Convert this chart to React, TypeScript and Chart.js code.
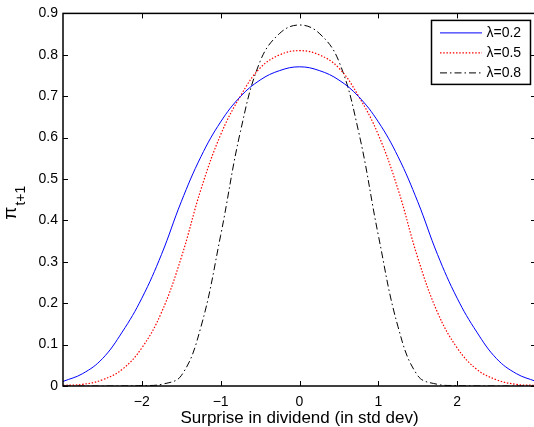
import React, { useEffect, useRef } from "react";
import { Chart, registerables } from "chart.js";

Chart.register(...registerables);

// ---- data ----
const xValues = [
  -3, -2.75, -2.5, -2.25, -2, -1.75, -1.5, -1.25, -1, -0.75, -0.5, -0.25, 0,
  0.25, 0.5, 0.75, 1, 1.25, 1.5, 1.75, 2, 2.25, 2.5, 2.75, 3,
];
const lambda02 = [
  0.011, 0.03, 0.066, 0.13, 0.212, 0.318, 0.445, 0.554, 0.638, 0.699, 0.739, 0.762, 0.771,
  0.762, 0.739, 0.699, 0.638, 0.554, 0.445, 0.318, 0.212, 0.13, 0.066, 0.03, 0.011,
];
const lambda05 = [
  0.0015, 0.004, 0.015, 0.04, 0.092, 0.178, 0.31, 0.475, 0.607, 0.7, 0.768, 0.8, 0.81,
  0.8, 0.768, 0.7, 0.607, 0.475, 0.31, 0.178, 0.092, 0.04, 0.015, 0.004, 0.0015,
];
const lambda08 = [
  0, 0, 0, 0.0002, 0.001, 0.004, 0.025, 0.143, 0.364, 0.614, 0.784, 0.852, 0.872,
  0.852, 0.784, 0.614, 0.364, 0.143, 0.025, 0.004, 0.001, 0.0002, 0, 0, 0,
];
const seriesLabels = ["λ=0.2", "λ=0.5", "λ=0.8"];
const xTicks = [-2, -1, 0, 1, 2];
const xTickLabels = ["\u22122", "\u22121", "0", "1", "2"];
const yTicks = [0, 0.1, 0.2, 0.3, 0.4, 0.5, 0.6, 0.7, 0.8, 0.9];
const yTickLabels = ["0", "0.1", "0.2", "0.3", "0.4", "0.5", "0.6", "0.7", "0.8", "0.9"];
const xAxisTitle = "Surprise in dividend (in std dev)";
const yAxisMain = "π";
const yAxisSub = "t+1";

const FONT = "'Liberation Sans', Arial, Helvetica, sans-serif";

const framePlugin = {
  id: "matlabFrame",
  afterDatasetsDraw(chart: any) {
    const { ctx, chartArea } = chart;
    const { left, right, top, bottom } = chartArea;
    const xs = chart.scales.x;
    const ys = chart.scales.y;
    const tl = 5;
    ctx.save();
    ctx.strokeStyle = "#000";
    ctx.lineWidth = 1;
    for (const v of xTicks) {
      const px = Math.round(xs.getPixelForValue(v)) + 0.5;
      ctx.beginPath();
      ctx.moveTo(px, bottom);
      ctx.lineTo(px, bottom - tl);
      ctx.moveTo(px, top);
      ctx.lineTo(px, top + tl);
      ctx.stroke();
    }
    for (const v of yTicks) {
      const py = Math.round(ys.getPixelForValue(v)) + 0.5;
      ctx.beginPath();
      ctx.moveTo(left, py);
      ctx.lineTo(left + tl, py);
      ctx.moveTo(right, py);
      ctx.lineTo(right - tl, py);
      ctx.stroke();
    }
    ctx.lineWidth = 1.5;
    ctx.strokeRect(left, top, right - left, bottom - top);
    ctx.restore();
  },
};

const legendPlugin = {
  id: "boxLegend",
  afterDraw(chart: any) {
    const { ctx, chartArea } = chart;
    const w = 99;
    const h = 64;
    const x0 = chartArea.right - 5.5 - w;
    const y0 = chartArea.top + 7;
    ctx.save();
    ctx.fillStyle = "#fff";
    ctx.fillRect(x0, y0, w, h);
    ctx.strokeStyle = "#000";
    ctx.lineWidth = 1.5;
    ctx.setLineDash([]);
    ctx.strokeRect(x0, y0, w, h);
    ctx.font = `14px ${FONT}`;
    ctx.textBaseline = "middle";
    ctx.textAlign = "left";
    chart.data.datasets.forEach((ds: any, i: number) => {
      const y = y0 + 12.5 + i * 20;
      ctx.beginPath();
      ctx.strokeStyle = ds.borderColor;
      ctx.lineWidth = ds.borderWidth;
      ctx.setLineDash(ds.borderDash || []);
      ctx.moveTo(x0 + 8.5, y);
      ctx.lineTo(x0 + 50.5, y);
      ctx.stroke();
      ctx.setLineDash([]);
      ctx.fillStyle = "#000";
      ctx.fillText(ds.label, x0 + 55, y + 0.5);
    });
    ctx.restore();
  },
};

const yTitlePlugin = {
  id: "yTitle",
  afterDraw(chart: any) {
    const { ctx, chartArea } = chart;
    const cy = (chartArea.top + chartArea.bottom) / 2 + 3;
    ctx.save();
    ctx.fillStyle = "#000";
    ctx.font = `19px ${FONT}`;
    const wMain = ctx.measureText(yAxisMain).width;
    ctx.font = `14px ${FONT}`;
    const wSub = ctx.measureText(yAxisSub).width;
    const total = wMain + 1 + wSub;
    ctx.translate(16, cy + total / 2);
    ctx.rotate(-Math.PI / 2);
    ctx.textAlign = "left";
    ctx.textBaseline = "alphabetic";
    ctx.font = `19px ${FONT}`;
    ctx.fillText(yAxisMain, 0, 0);
    ctx.font = `14px ${FONT}`;
    ctx.fillText(yAxisSub, wMain + 1, 9);
    ctx.restore();
  },
};

export default function App() {
  const canvasRef = useRef<HTMLCanvasElement | null>(null);

  useEffect(() => {
    const canvas = canvasRef.current;
    if (!canvas) return;
    const mk = (ys: number[]) => xValues.map((x, i) => ({ x, y: ys[i] }));
    const chart = new Chart(canvas, {
      type: "line",
      data: {
        datasets: [
          {
            label: seriesLabels[0],
            data: mk(lambda02),
            borderColor: "#0000ff",
            borderWidth: 1,
            borderDash: [],
            pointRadius: 0,
            tension: 0.4,
            fill: false,
          },
          {
            label: seriesLabels[1],
            data: mk(lambda05),
            borderColor: "#ff0000",
            borderWidth: 1.2,
            borderDash: [1.5, 1.7],
            pointRadius: 0,
            tension: 0.4,
            fill: false,
          },
          {
            label: seriesLabels[2],
            data: mk(lambda08),
            borderColor: "#000000",
            borderWidth: 1,
            borderDash: [7, 3, 1.5, 3],
            pointRadius: 0,
            tension: 0.4,
            fill: false,
          },
        ],
      },
      options: {
        responsive: false,
        animation: false,
        devicePixelRatio: 1,
        layout: { padding: { left: 0, top: 13, right: 9, bottom: 0 } },
        plugins: {
          legend: { display: false },
          tooltip: { enabled: false },
          title: { display: false },
        },
        scales: {
          x: {
            type: "linear",
            min: -3,
            max: 3,
            grid: { display: false, drawTicks: false },
            border: { display: false },
            afterBuildTicks: (scale: any) => {
              scale.ticks = xTicks.map((v) => ({ value: v }));
            },
            afterFit: (scale: any) => {
              scale.height = 43;
            },
            ticks: {
              padding: 8,
              color: "#000",
              font: { family: FONT, size: 14 },
              maxRotation: 0,
              autoSkip: false,
              callback: (v: any) => {
                const i = xTicks.indexOf(Number(v));
                return i >= 0 ? xTickLabels[i] : "";
              },
            },
            title: {
              display: true,
              text: xAxisTitle,
              color: "#000",
              font: { family: FONT, size: 17 },
              padding: { top: 0, bottom: 0 },
            },
          },
          y: {
            type: "linear",
            min: 0,
            max: 0.9,
            grid: { display: false, drawTicks: false },
            border: { display: false },
            afterBuildTicks: (scale: any) => {
              scale.ticks = yTicks.map((v) => ({ value: v }));
            },
            afterFit: (scale: any) => {
              scale.width = 63;
            },
            ticks: {
              padding: 5,
              color: "#000",
              font: { family: FONT, size: 14 },
              autoSkip: false,
              callback: (v: any) => {
                const i = yTicks.findIndex((t) => Math.abs(t - Number(v)) < 1e-9);
                return i >= 0 ? yTickLabels[i] : "";
              },
            },
          },
        },
      },
      plugins: [framePlugin, legendPlugin, yTitlePlugin],
    } as any);
    return () => chart.destroy();
  }, []);

  return (
    <div
      style={{
        position: "fixed",
        left: 0,
        top: 0,
        width: 534,
        height: 427,
        overflow: "hidden",
        background: "#fff",
      }}
    >
      <canvas ref={canvasRef} width={545} height={429} style={{ display: "block" }} />
    </div>
  );
}
